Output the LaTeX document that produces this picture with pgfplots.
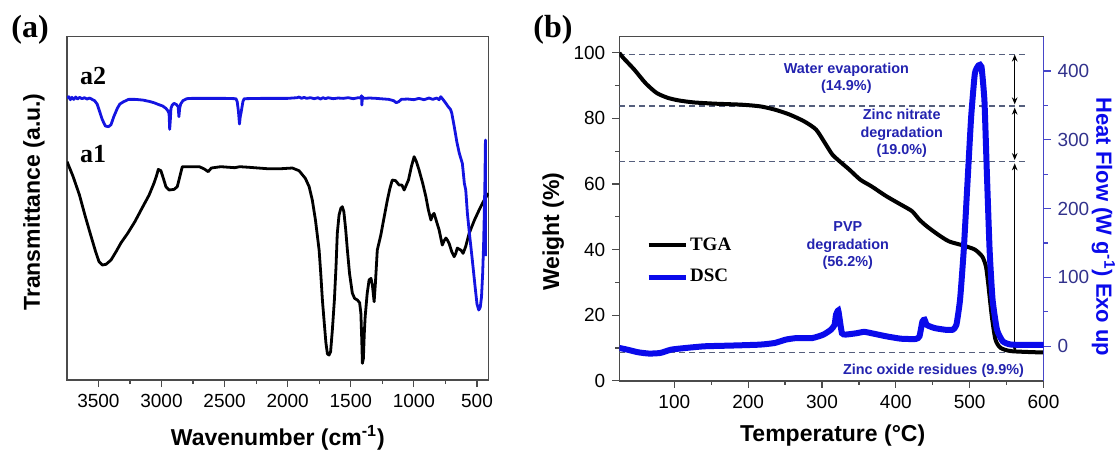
\documentclass[border=0pt]{standalone}
\usepackage{fontspec}
\setmainfont{Liberation Sans}
\newfontfamily\serifb{Liberation Serif}
\usepackage{pgfplots}
\pgfplotsset{compat=1.18}
\usetikzlibrary{arrows.meta}
\definecolor{dscblue}{RGB}{10,10,235}
\definecolor{ftblue}{RGB}{20,20,225}
\definecolor{annblue}{RGB}{35,35,175}
\definecolor{axblue}{RGB}{70,70,200}
\definecolor{axlab}{RGB}{50,50,140}
\definecolor{dashc}{RGB}{85,95,125}
\definecolor{framec}{RGB}{75,75,75}

\pgfplotsset{
  panel/.style={
    scale only axis,
    tick align=outside,
    major tick length=3.5pt,
    minor tick length=2pt,
    every tick/.style={framec,line width=0.6pt},
    axis line style={framec,line width=0.8pt},
    /pgf/number format/assume math mode=true,
    /pgf/number format/1000 sep={},
    tick label style={font=\fontsize{9.5}{11}\selectfont},
    label style={font=\bfseries\fontsize{11.5}{13}\selectfont},
  }
}

\begin{document}
\begin{tikzpicture}
\useasboundingbox (0,0) rectangle (558.5pt,225.5pt);

% (a) FTIR
\begin{axis}[panel,
  at={(33.55pt,35.5pt)}, anchor=south west,
  width=210.75pt, height=171.65pt,
  x dir=reverse, xmin=408, xmax=3748, ymin=0, ymax=1030,
  xtick={500,1000,...,3500}, minor x tick num=1,
  ytick=\empty, xtick pos=bottom,
  xlabel={Wavenumber (cm\textsuperscript{-1})},
  ylabel={Transmittance (a.u.)},
  xlabel style={at={(axis description cs:0.5,-0.169)},anchor=center},
  ylabel style={at={(axis description cs:-0.0785,0.5185)},anchor=center},
]
\addplot[black,line width=1.4pt,line join=round] coordinates {
(3748,655) (3700,610) (3650,555) (3607,495) (3565,440) (3522,385) (3495,355)
(3469,345) (3440,347) (3400,360) (3360,385) (3320,412) (3268,440) (3211,475)
(3155,515) (3098,555) (3060,590) (3040,612) (3025,632) (3005,628) (2985,605)
(2965,580) (2940,570) (2900,572) (2875,580) (2855,610) (2835,640) (2760,640)
(2700,640) (2660,633) (2630,625) (2605,636) (2530,640) (2420,637) (2380,640)
(2300,638) (2164,634) (2051,634) (1963,636) (1910,628) (1860,605) (1830,580)
(1805,540) (1780,480) (1751,390) (1738,320) (1725,240) (1710,170) (1697,111)
(1685,78) (1672,75) (1660,85) (1646,150) (1630,240) (1617,340) (1607,440)
(1593,495) (1579,515) (1567,520) (1555,505) (1540,450) (1527,390) (1510,320)
(1488,261) (1470,245) (1448,240) (1430,232) (1420,200) (1413,120) (1408,50)
(1400,65) (1393,140) (1386,190) (1370,260) (1355,300) (1340,305) (1329,285)
(1315,235) (1305,290) (1290,390) (1262,435) (1240,480) (1210,540) (1190,575)
(1171,600) (1145,598) (1117,585) (1095,585) (1077,570) (1060,585) (1043,600)
(1020,640) (998,670) (980,655) (959,630) (930,590) (905,550) (885,510)
(865,480) (852,495) (840,500) (820,475) (800,450) (775,405) (760,418)
(746,426) (735,420) (721,410) (700,385) (681,370) (668,380) (656,396)
(640,392) (628,390) (610,380) (590,400) (562,440) (520,480) (483,510)
(450,535) (410,560)};
\addplot[ftblue,line width=1.4pt,line join=round] coordinates {
(3748,846) (3735,850) (3722,841) (3710,848) (3695,842) (3680,849) (3665,843)
(3650,848) (3630,844) (3610,847) (3590,843) (3570,846) (3550,842) (3530,838)
(3510,828) (3494,810) (3470,782) (3445,762) (3420,760) (3400,766) (3378,790)
(3350,815) (3330,828) (3300,835) (3260,842) (3211,842) (3150,840) (3098,836)
(3060,832) (3020,826) (2990,822) (2965,815) (2950,808) (2940,800) (2935,752)
(2930,780) (2925,815) (2915,825) (2900,830) (2880,826) (2868,820) (2862,790)
(2856,815) (2848,828) (2830,838) (2800,844) (2758,845) (2700,845) (2500,845)
(2410,844) (2400,835) (2390,805) (2382,768) (2376,790) (2368,805) (2355,835)
(2345,844) (2200,845) (2000,845) (1925,847) (1910,849) (1890,845) (1870,848)
(1850,845) (1820,847) (1790,844) (1760,847) (1740,843) (1720,847) (1700,844)
(1680,847) (1640,844) (1600,846) (1560,845) (1520,847) (1480,844) (1440,847)
(1420,846) (1415,853) (1412,825) (1408,850) (1400,845) (1350,846) (1300,845)
(1200,842) (1160,838) (1140,832) (1120,835) (1100,842) (1050,843) (1000,841)
(960,845) (920,841) (880,846) (850,842) (820,846) (800,841) (787,850)
(770,842) (750,832) (728,820) (710,812) (700,801) (680,760) (660,715)
(640,680) (616,650) (600,590) (589,570) (576,500) (560,440) (537,360)
(515,280) (500,228) (486,210) (474,218) (464,250) (455,320) (448,400)
(442,500) (437,600) (434,690) (433,720) (432,372)};
\end{axis}

% (b) TGA / DSC
\begin{axis}[panel,
  at={(309.65pt,35.15pt)}, anchor=south west,
  width=212.1pt, height=172.1pt,
  xmin=25.5, xmax=600, ymin=0, ymax=105,
  xtick={100,200,...,600}, minor x tick num=1,
  ytick={0,20,...,100}, minor y tick num=1,
  xtick pos=bottom, ytick pos=left,
  xlabel={Temperature (°C)},
  ylabel={Weight (\%)},
  xlabel style={at={(axis description cs:0.503,-0.158)},anchor=center},
  ylabel style={at={(axis description cs:-0.156,0.433)},anchor=center},
  legend style={draw=none,fill=none,at={(0.048,0.347)},anchor=west,
    font=\serifb\bfseries\fontsize{9.5}{11}\selectfont,row sep=6pt,
    nodes={inner sep=1pt}},
  legend cell align=left,
  legend image code/.code={\draw[#1] (0pt,0pt) -- (18.5pt,0pt);},
]
\addplot[dashc,line width=0.6pt,dash pattern=on 3pt off 2pt,forget plot]
  coordinates {(25.5,99.5) (575,99.5)};
\addplot[dashc,line width=0.6pt,dash pattern=on 3pt off 2pt,forget plot]
  coordinates {(25.5,83.8) (575,83.8)};
\addplot[dashc,line width=0.6pt,dash pattern=on 3pt off 2pt,forget plot]
  coordinates {(25.5,66.8) (575,66.8)};
\addplot[dashc,line width=0.6pt,dash pattern=on 3pt off 2pt,forget plot]
  coordinates {(25.5,8.5) (575,8.5)};
\addplot[black,line width=2pt,smooth,tension=0.4] coordinates {
(25.5,100) (30.8,98.5) (45.8,94.9) (60.9,90.8) (75.9,87.8) (91,86.3)
(106,85.5) (126,84.9) (156,84.5) (191,84.2) (216,83.7) (236,82.7) (256,81.2)
(276,79.1) (292,76.6) (304,72.5) (314,69) (324,66.9) (337,64.4) (352,61.3)
(367,59.3) (387,56.3) (407,53.7) (422,51.7) (432,49.1) (442,47.1) (457,44.6)
(472,42.5) (492,41.2) (507,40) (517,37.9) (522,34.9) (525,29.8) (530,19.6)
(535,12.5) (542,10) (557,9) (600,8.6)};
\addlegendentry{TGA}
\addlegendimage{dscblue,line width=2.5pt}
\addlegendentry{DSC}
\draw[black,line width=0.6pt,{Stealth[length=3.5pt,width=2.8pt]}-{Stealth[length=3.5pt,width=2.8pt]}]
  (axis cs:561,99.5) -- (axis cs:561,84.3);
\draw[black,line width=0.6pt,{Stealth[length=3.5pt,width=2.8pt]}-{Stealth[length=3.5pt,width=2.8pt]}]
  (axis cs:561,83.3) -- (axis cs:561,67.3);
\draw[black,line width=0.6pt,{Stealth[length=3.5pt,width=2.8pt]}-{Stealth[length=3.5pt,width=2.8pt]}]
  (axis cs:561,66.3) -- (axis cs:561,8.8);
\begin{scope}[every node/.style={annblue,font=\bfseries\fontsize{7.2}{8.7}\selectfont,align=center}]
\node at (axis cs:333,92.2) {Water evaporation\\(14.9\%)};
\node at (axis cs:408,75.4) {Zinc nitrate\\degradation\\(19.0\%)};
\node at (axis cs:335,41.2) {PVP\\degradation\\(56.2\%)};
\node at (axis cs:451,2.9) {Zinc oxide residues (9.9\%)};
\end{scope}
\end{axis}

\begin{axis}[panel,
  at={(309.65pt,35.15pt)}, anchor=south west,
  width=212.1pt, height=172.1pt,
  xmin=25.5, xmax=600, ymin=-50, ymax=450,
  axis x line=none, axis y line*=right,
  ytick={0,100,...,400}, minor y tick num=1,
  every tick/.style={axblue,line width=0.6pt},
  y axis line style={axblue,line width=0.8pt},
  yticklabel style={axlab},
  ylabel={Heat Flow (W g\textsuperscript{-1}) Exo up},
  ylabel style={dscblue,font=\bfseries\fontsize{11}{13}\selectfont,
    at={(axis description cs:1.141,0.447)},anchor=center,rotate=180},
]
\addplot[dscblue,line width=3pt,smooth,tension=0.3] coordinates {
(25.5,-2.4) (36,-4.8) (51,-8.7) (66,-10.6) (81,-9.7) (96,-4.8) (116,-2.4)
(141,0) (176,1) (216,2.4) (236,4.8) (251,9.7) (266,12) (287,12) (302,17)
(312,24) (317,31) (319,46) (322,52) (324,39) (327,19) (332,17) (347,19)
(357,21) (367,19) (387,14.5) (407,11) (427,10.6) (432,14.5) (436,36)
(439,38.6) (442,31) (452,26.6) (467,24) (477,24) (482,31) (487,68)
(492,140) (497,237) (502,333) (507,396) (512,408) (516,406) (520,357)
(523,261) (527,140) (531,68) (537,24) (545,7) (557,2.4) (600,2)};
\end{axis}

\node[font=\serifb\bfseries\fontsize{16}{18}\selectfont] at (15pt,210.5pt) {(a)};
\node[font=\serifb\bfseries\fontsize{16}{18}\selectfont] at (276.5pt,210.5pt) {(b)};
\node[font=\serifb\bfseries\fontsize{13}{15}\selectfont] at (46.5pt,187.5pt) {a2};
\node[font=\serifb\bfseries\fontsize{13}{15}\selectfont] at (46.5pt,148.5pt) {a1};
\end{tikzpicture}
\end{document}
